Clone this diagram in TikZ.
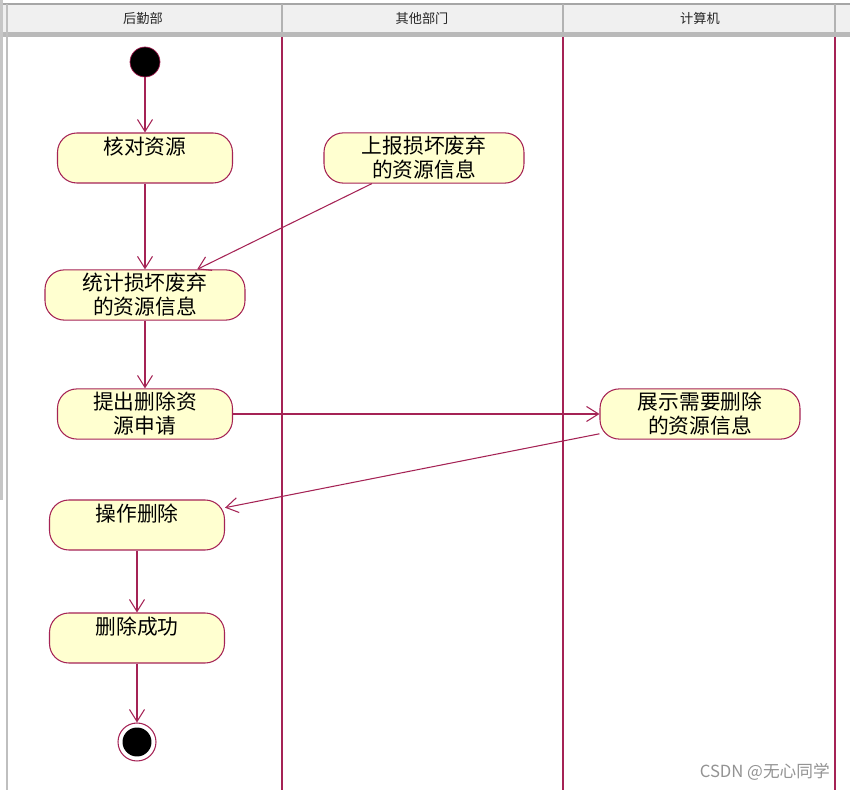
\documentclass[tikz,border=0pt]{standalone}
\usepackage{fontspec}
\newfontfamily\cjk{Noto Sans CJK SC}
\usetikzlibrary{arrows.meta}
\definecolor{lane}{RGB}{165,35,85}
\definecolor{actfill}{RGB}{255,255,208}
\definecolor{hdr}{RGB}{240,240,240}
\tikzset{
  act/.style={draw=lane, line width=0.6pt, fill=actfill, rectangle, rounded corners=11pt,
    minimum height=1cm, align=center, inner sep=2pt,
    font=\cjk\fontsize{11.8}{13.6}\selectfont},
  flow/.style={draw=lane, line width=0.6pt, -{Straight Barb[length=0.24cm,width=0.3cm]}},
  lanehead/.style={font=\cjk\fontsize{7.5}{9}\selectfont, text=black!85},
}
\begin{document}
\begin{tikzpicture}[x=0.02cm,y=-0.02cm]
\useasboundingbox (0,0) rectangle (850,790);
\fill[white] (0,0) rectangle (850,790);
% header
\fill[hdr] (3,4) rectangle (850,34);
\draw[gray!70, line width=0.6pt] (3,4) -- (850,4);
\fill[gray!55] (3,32) rectangle (850,37);
\foreach \xx in {282,563,835} \draw[gray!60, line width=0.8pt] (\xx,4) -- (\xx,32);
\fill[gray!45] (0,0) rectangle (3,500);
\draw[gray!50, line width=0.8pt] (7,4) -- (7,790);
\node[lanehead] (h1) at (143,18) {后勤部};
\node[lanehead] (h2) at (422,18) {其他部门};
\node[lanehead] (h3) at (700,18) {计算机};
% lanes
\foreach \xx in {282,563,835} \draw[lane, line width=0.6pt] (\xx,37) -- (\xx,790);
% nodes
\node[circle, fill=black, draw=lane, line width=0.4pt, minimum size=0.6cm, inner sep=0pt] (start) at (145,62) {};
\node[act, minimum width=3.5cm] (a1) at (145,158) {核对资源\\\mbox{}};
\node[act, minimum width=4cm] (b1) at (424,158) {上报损坏废弃\\的资源信息};
\node[act, minimum width=4cm] (a2) at (145,295) {统计损坏废弃\\的资源信息};
\node[act, minimum width=3.5cm] (a3) at (145,414) {提出删除资\\源申请};
\node[act, minimum width=4cm] (c1) at (700,414) {展示需要删除\\的资源信息};
\node[act, minimum width=3.5cm] (a4) at (137,525) {操作删除\\\mbox{}};
\node[act, minimum width=3.5cm] (a5) at (137,638) {删除成功\\\mbox{}};
\node[circle, draw=lane, line width=0.6pt, fill=white, minimum size=0.76cm, inner sep=0pt,
  path picture={\fill[black] (path picture bounding box.center) circle (0.29cm);}] (end) at (137,742) {};
% flows
\draw[flow] (start) -- (a1);
\draw[flow] (a1) -- (a2);
\draw[flow] (b1) -- (a2);
\draw[flow] (a2) -- (a3);
\draw[flow] (a3) -- (c1);
\draw[flow] (c1) -- (a4);
\draw[flow] (a4) -- (a5);
\draw[flow] (a5) -- (end);
% watermark
\node[anchor=east, text=gray!85, font=\cjk\fontsize{9.5}{11}\selectfont] (wm) at (836,772) {CSDN @无心同学};
\end{tikzpicture}
\end{document}
